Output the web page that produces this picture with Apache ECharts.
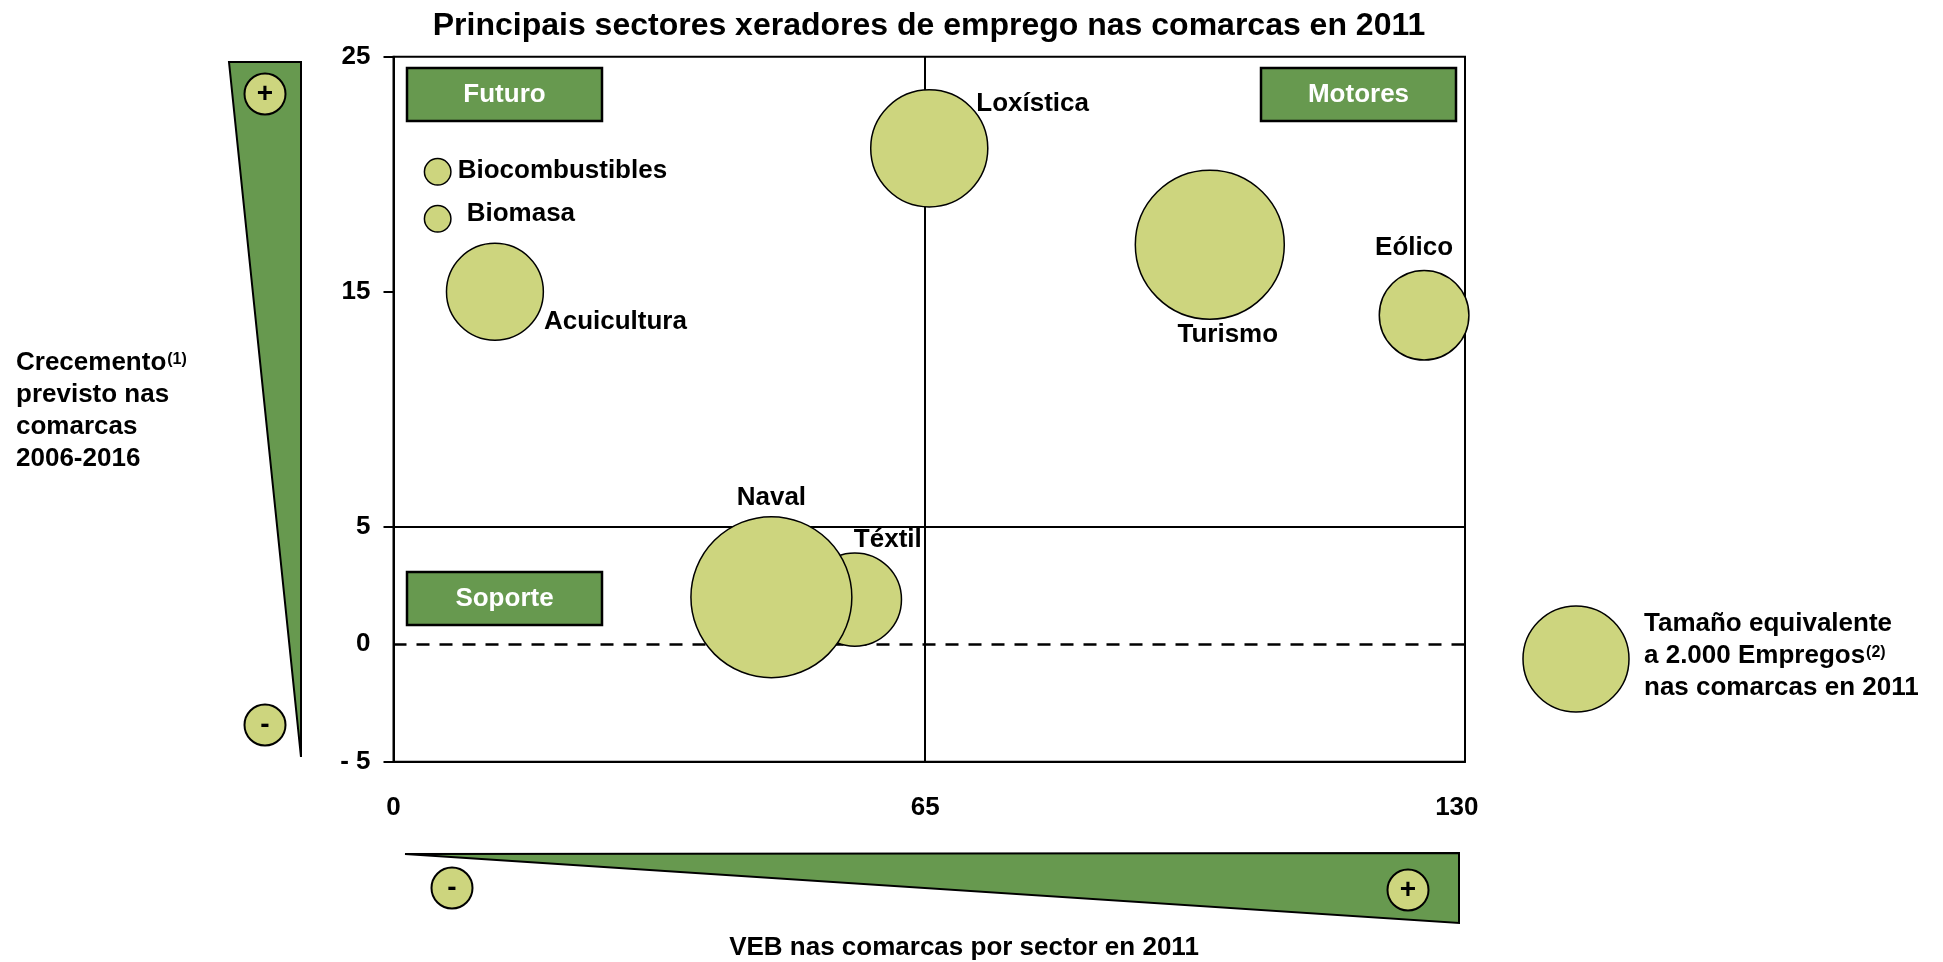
<!DOCTYPE html>
<html lang="gl">
<head>
<meta charset="UTF-8">
<title>Principais sectores xeradores de emprego nas comarcas en 2011</title>
<script src="https://cdn.jsdelivr.net/npm/echarts@6/dist/echarts.min.js"></script>
<style>
  html, body { margin: 0; padding: 0; background: #fff; }
  #main { width: 1943px; height: 962px; }
</style>
</head>
<body>
<div id="main"></div>
<script>
// values
const sectors = ['Biocombustibles', 'Biomasa', 'Acuicultura', 'Loxística', 'Turismo', 'Eólico', 'Téxtil', 'Naval'];
const veb = [5.4, 5.4, 12.4, 65.5, 99.8, 126.0, 56.4, 46.2];      // VEB 2011 (x)
const growth = [20.1, 18.1, 15.0, 21.1, 17.0, 14.0, 1.9, 2.0];    // crecemento 2006-2016 (y)
const jobs = [125, 125, 1670, 2440, 3950, 1430, 1550, 4610];      // empregos 2011 (bubble area)

const yTicks = [-5, 5, 15, 25];
const yLabels = [-5, 0, 5, 15, 25];
const xLabels = [0, 65, 130];
const legendJobs = 2000;
const quadrantX = 65;
const quadrantY = 5;

const FONT = 'Liberation Sans';
const BUBBLE = '#cdd57e';
const GREEN = '#67994f';
const LEGEND_DIAM = 106;

// bubble area proportional to jobs
const bubbleSize = j => LEGEND_DIAM * Math.sqrt(j / legendJobs);

// where each sector's name sits relative to its bubble
const labelPlace = {
  'Biocombustibles': { align: 'left', offset: [20, -1] },
  'Biomasa': { align: 'left', offset: [29, -5] },
  'Acuicultura': { align: 'left', offset: [49, 30] },
  'Loxística': { align: 'left', offset: [47, -45] },
  'Turismo': { align: 'center', offset: [18, 90] },
  'Eólico': { align: 'center', offset: [-10, -67] },
  'Naval': { align: 'center', offset: [0, -99] },
  'Téxtil': { align: 'center', offset: [33, -60] }
};

const chart = echarts.init(document.getElementById('main'));

const txt = { fontFamily: FONT, fontWeight: 'bold', fontSize: 26, color: '#000' };

function box(x, y, label) {
  return [
    { type: 'rect', z: 10, shape: { x: x, y: y, width: 195, height: 53 },
      style: { fill: GREEN, stroke: '#000', lineWidth: 2.5 } },
    { type: 'text', z: 11, x: x + 97.5, y: y + 27,
      style: { text: label, fill: '#fff', font: 'bold 26px ' + FONT, align: 'center', verticalAlign: 'middle' } }
  ];
}

function sign(cx, cy, s) {
  return [
    { type: 'circle', z: 10, shape: { cx: cx, cy: cy, r: 20.5 },
      style: { fill: BUBBLE, stroke: '#000', lineWidth: 2 } },
    { type: 'text', z: 11, x: cx, y: cy,
      style: { text: s, fill: '#000', font: 'bold 28px ' + FONT, align: 'center', verticalAlign: 'middle' } }
  ];
}

const richBase = {
  sup: { fontFamily: FONT, fontWeight: 'bold', fontSize: 16, verticalAlign: 'top', lineHeight: 32, padding: [5, 0, 0, 1] }
};

const option = {
  animation: false,
  title: {
    text: 'Principais sectores xeradores de emprego nas comarcas en 2011',
    left: 924, top: 5, textAlign: 'center',
    textStyle: { fontFamily: FONT, fontWeight: 'bold', fontSize: 32, color: '#000' }
  },
  grid: {
    left: 393.5, top: 56.7, right: 478, bottom: 200.3,
    show: true, borderColor: '#000', borderWidth: 2
  },
  xAxis: {
    type: 'value', min: 0, max: 131,
    splitLine: { show: false },
    axisLine: { onZero: false, lineStyle: { color: '#000', width: 2 } },
    axisTick: { show: false },
    axisLabel: Object.assign({ customValues: xLabels, margin: 33 }, txt)
  },
  yAxis: {
    type: 'value', min: -5, max: 25, interval: 10,
    splitLine: { show: false },
    axisLine: { show: true, onZero: false, lineStyle: { color: '#000', width: 2 } },
    axisTick: { show: true, customValues: yTicks, length: 10, lineStyle: { color: '#000', width: 2 } },
    axisLabel: Object.assign({
      customValues: yLabels, margin: 23,
      formatter: v => (v < 0 ? '- ' + Math.abs(v) : String(v))
    }, txt)
  },
  series: [
    {
      type: 'line', data: [], z: 1,
      markLine: {
        silent: true, z: 1, symbol: 'none', label: { show: false },
        lineStyle: { color: '#000', width: 2, type: 'solid' },
        data: [
          { xAxis: quadrantX },
          { yAxis: quadrantY },
          { yAxis: 0, lineStyle: { type: [13, 10], width: 2.5 } }
        ]
      }
    },
    {
      type: 'scatter', z: 3,
      symbolSize: v => bubbleSize(v[2]),
      itemStyle: { color: BUBBLE, borderColor: '#000', borderWidth: 1.5, opacity: 1 },
      emphasis: { disabled: true },
      label: Object.assign({ show: true, position: 'inside', verticalAlign: 'middle', formatter: p => p.name }, txt),
      data: sectors.map((name, i) => ({
        name: name,
        value: [veb[i], growth[i], jobs[i]],
        label: { align: labelPlace[name].align, offset: labelPlace[name].offset }
      }))
    }
  ],
  graphic: {
    elements: [
      // vertical growth wedge
      { type: 'polygon', z: 5, shape: { points: [[229, 62], [301, 62], [301, 757]] },
        style: { fill: GREEN, stroke: '#000', lineWidth: 2 } },
      ...sign(265, 94, '+'),
      ...sign(265, 725, '-'),
      // horizontal VEB wedge
      { type: 'polygon', z: 5, shape: { points: [[405, 854], [1459, 853], [1459, 923]] },
        style: { fill: GREEN, stroke: '#000', lineWidth: 2 } },
      ...sign(452, 888, '-'),
      ...sign(1408, 890, '+'),
      // quadrant names
      ...box(407, 68, 'Futuro'),
      ...box(1261, 68, 'Motores'),
      ...box(407, 572, 'Soporte'),
      // axis titles
      { type: 'text', x: 16, y: 411,
        style: {
          text: 'Crecemento{sup|(1)}\nprevisto nas\ncomarcas\n2006-2016',
          font: 'bold 26px ' + FONT, fill: '#000', lineHeight: 32,
          align: 'left', verticalAlign: 'middle', rich: richBase
        } },
      { type: 'text', x: 964, y: 948,
        style: { text: 'VEB nas comarcas por sector en 2011', font: 'bold 26px ' + FONT, fill: '#000',
          align: 'center', verticalAlign: 'middle' } },
      // size legend
      { type: 'circle', shape: { cx: 1576, cy: 659, r: bubbleSize(legendJobs) / 2 },
        style: { fill: BUBBLE, stroke: '#000', lineWidth: 1.5 } },
      { type: 'text', x: 1644, y: 656,
        style: {
          text: 'Tamaño equivalente\na ' + '2.000' + ' Empregos{sup|(2)}\nnas comarcas en 2011',
          font: 'bold 26px ' + FONT, fill: '#000', lineHeight: 32,
          align: 'left', verticalAlign: 'middle', rich: richBase
        } }
    ]
  }
};

chart.setOption(option);
</script>
</body>
</html>
